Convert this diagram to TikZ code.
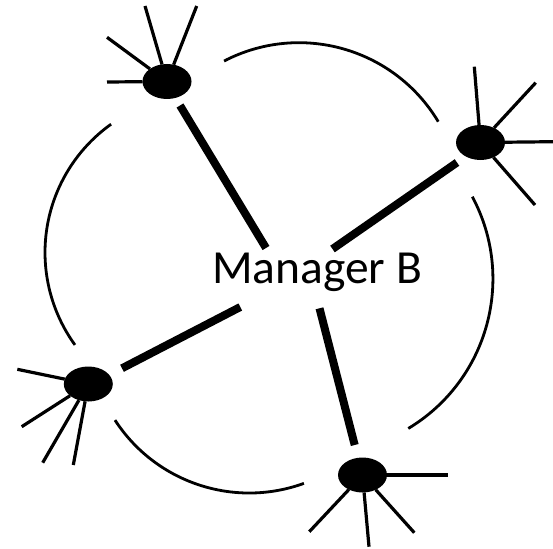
\documentclass[tikz,border=0pt]{standalone}
\usepackage{fontspec}
\setmainfont{Carlito}
\usetikzlibrary{shapes.geometric}
\begin{document}
\begin{tikzpicture}[x=1pt,y=1pt,
  blob/.style={ellipse, fill=black, draw=none, minimum width=49pt, minimum height=35pt, inner sep=0pt, outer sep=0pt},
  spokeline/.style={line width=3.2pt},
  hubline/.style={line width=8pt},
  arcline/.style={line width=2.8pt}]
\useasboundingbox (0,0) rectangle (553,-548);
% leaf nodes
\node[blob] (tl) at (167,-81.5) {};
\node[blob] (tr) at (480.5,-142.5) {};
\node[blob] (bl) at (88.3,-384) {};
\node[blob] (bt) at (362.5,-475) {};
% hub text
\node[font=\fontsize{47.5}{57}\selectfont, anchor=base, inner sep=0pt] (hub) at (317,-283.3) {Manager B};
% spoke ends
\coordinate (tl1) at (107,-82);
\coordinate (tl2) at (107,-37.3);
\coordinate (tl3) at (145,-6);
\coordinate (tl4) at (196.7,-6);
\coordinate (tr1) at (474.3,-66.7);
\coordinate (tr2) at (535.7,-82.7);
\coordinate (tr3) at (553,-141.7);
\coordinate (tr4) at (535,-205);
\coordinate (bl1) at (17.3,-369.3);
\coordinate (bl2) at (21.7,-426.7);
\coordinate (bl3) at (42.7,-462.7);
\coordinate (bl4) at (73.3,-465);
\coordinate (bt1) at (447.7,-475);
\coordinate (bt2) at (309.3,-531.7);
\coordinate (bt3) at (369,-546.7);
\coordinate (bt4) at (414.3,-532.7);
\foreach \n in {1,2,3,4}{
  \draw[spokeline] (tl) -- (tl\n);
  \draw[spokeline] (tr) -- (tr\n);
  \draw[spokeline] (bl) -- (bl\n);
  \draw[spokeline] (bt) -- (bt\n);
}
% hub links
\coordinate (hTLa) at (180,-105.5);
\coordinate (hTLb) at (266,-248);
\coordinate (hTRa) at (457,-162.5);
\coordinate (hTRb) at (332.5,-249);
\coordinate (hBLa) at (122,-368.3);
\coordinate (hBLb) at (240.3,-307);
\coordinate (hBTa) at (354.7,-445);
\coordinate (hBTb) at (319.5,-308.3);
\draw[hubline] (hTLa) -- (hTLb);
\draw[hubline] (hTRa) -- (hTRb);
\draw[hubline] (hBLa) -- (hBLb);
\draw[hubline] (hBTa) -- (hBTb);
% arcs
\draw[arcline] ([shift={(202.6,-252.5)}]125.5:157.6) arc[start angle=125.5, end angle=215.9, radius=157.6];
\draw[arcline] ([shift={(299,-205)}]117.5:162.3) arc[start angle=117.5, end angle=30.9, radius=162.3];
\draw[arcline] ([shift={(318.4,-278.9)}]28.1:174.5) arc[start angle=28.1, end angle=-59, radius=174.5];
\draw[arcline] ([shift={(249.2,-333)}]213:160) arc[start angle=213, end angle=290, radius=160];
\end{tikzpicture}
\end{document}
